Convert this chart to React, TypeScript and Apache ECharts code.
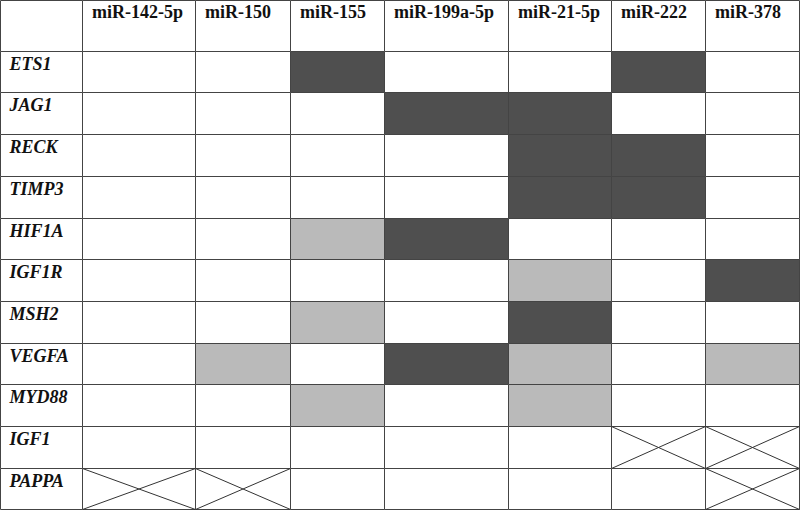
import React, { useEffect, useRef } from "react";
import * as echarts from "echarts";

// ---- data ----
const miRNAs = ["miR-142-5p", "miR-150", "miR-155", "miR-199a-5p", "miR-21-5p", "miR-222", "miR-378"];
const genes = ["ETS1", "JAG1", "RECK", "TIMP3", "HIF1A", "IGF1R", "MSH2", "VEGFA", "MYD88", "IGF1", "PAPPA"];
// 0 = none, 1 = light grey, 2 = dark grey, -1 = not applicable (crossed)
const ETS1 = [0, 0, 2, 0, 0, 2, 0];
const JAG1 = [0, 0, 0, 2, 2, 0, 0];
const RECK = [0, 0, 0, 0, 2, 2, 0];
const TIMP3 = [0, 0, 0, 0, 2, 2, 0];
const HIF1A = [0, 0, 1, 2, 0, 0, 0];
const IGF1R = [0, 0, 0, 0, 1, 0, 2];
const MSH2 = [0, 0, 1, 0, 2, 0, 0];
const VEGFA = [0, 1, 0, 2, 1, 0, 1];
const MYD88 = [0, 0, 1, 0, 1, 0, 0];
const IGF1 = [0, 0, 0, 0, 0, -1, -1];
const PAPPA = [-1, -1, 0, 0, 0, 0, -1];
const matrix = [ETS1, JAG1, RECK, TIMP3, HIF1A, IGF1R, MSH2, VEGFA, MYD88, IGF1, PAPPA];

// ---- layout ----
const COL_W = [82, 113, 95, 94, 124, 103, 94, 94];
const HEADER_H = 50.7;
const ROW_H = 41.7;
const colEdge: number[] = [0];
COL_W.forEach((w) => colEdge.push(colEdge[colEdge.length - 1] + w));
const rowEdge: number[] = [0, HEADER_H];
genes.forEach(() => rowEdge.push(rowEdge[rowEdge.length - 1] + ROW_H));

const DARK = "#4f4f4f";
const LIGHT = "#bababa";
const LINE = "#444444";
const SERIF = "Liberation Serif";

const snap = (v: number) => Math.round(v) + 0.5;

function cellBox(api: any, c: number, r: number) {
  const p0 = api.coord([colEdge[c], rowEdge[r]]);
  const p1 = api.coord([colEdge[c + 1], rowEdge[r + 1]]);
  return { x0: snap(p0[0]), y0: snap(p0[1]), x1: snap(p1[0]), y1: snap(p1[1]) };
}

export default function App() {
  const ref = useRef<HTMLDivElement>(null);
  useEffect(() => {
    if (!ref.current) return;
    const chart = echarts.init(ref.current, null, { renderer: "svg" });

    const bodyData: number[][] = [];
    matrix.forEach((row, r) => row.forEach((v, c) => bodyData.push([c, r, v])));
    const headerData = [["", 0], ...miRNAs.map((m, i) => [m, i + 1])];
    const geneData = genes.map((g, i) => [g, i]);

    const option: any = {
      animation: false,
      backgroundColor: "#ffffff",
      grid: { left: 0, top: 0, right: 0, bottom: 0 },
      xAxis: { type: "value", min: 0, max: 800, show: false },
      yAxis: { type: "value", min: 0, max: 510, inverse: true, show: false },
      series: [
        {
          type: "custom",
          coordinateSystem: "cartesian2d",
          data: bodyData,
          silent: true,
          renderItem: (params: any, api: any) => {
            const c = api.value(0) + 1;
            const r = api.value(1) + 1;
            const v = api.value(2);
            const b = cellBox(api, c, r);
            const fill = v === 2 ? DARK : v === 1 ? LIGHT : "#ffffff";
            const children: any[] = [
              {
                type: "rect",
                shape: { x: b.x0, y: b.y0, width: b.x1 - b.x0, height: b.y1 - b.y0 },
                style: { fill, stroke: LINE, lineWidth: 1 },
              },
            ];
            if (v === -1) {
              children.push({
                type: "line",
                shape: { x1: b.x0, y1: b.y0, x2: b.x1, y2: b.y1 },
                style: { stroke: "#333", lineWidth: 1 },
              });
              children.push({
                type: "line",
                shape: { x1: b.x0, y1: b.y1, x2: b.x1, y2: b.y0 },
                style: { stroke: "#333", lineWidth: 1 },
              });
            }
            return { type: "group", children };
          },
        },
        {
          type: "custom",
          coordinateSystem: "cartesian2d",
          data: headerData,
          silent: true,
          renderItem: (params: any, api: any) => {
            const idx = headerData[params.dataIndex][1] as number;
            const label = headerData[params.dataIndex][0] as string;
            const b = cellBox(api, idx, 0);
            return {
              type: "group",
              children: [
                {
                  type: "rect",
                  shape: { x: b.x0, y: b.y0, width: b.x1 - b.x0, height: b.y1 - b.y0 },
                  style: { fill: "#ffffff", stroke: LINE, lineWidth: 1 },
                },
                {
                  type: "text",
                  style: {
                    text: label,
                    x: b.x0 + 9.5,
                    y: b.y0 + 2.5,
                    fontFamily: SERIF,
                    fontSize: 18,
                    fontWeight: "bold",
                    fill: "#111111",
                    align: "left",
                    verticalAlign: "top",
                  },
                },
              ],
            };
          },
        },
        {
          type: "custom",
          coordinateSystem: "cartesian2d",
          data: geneData,
          silent: true,
          renderItem: (params: any, api: any) => {
            const r = (geneData[params.dataIndex][1] as number) + 1;
            const label = geneData[params.dataIndex][0] as string;
            const b = cellBox(api, 0, r);
            return {
              type: "group",
              children: [
                {
                  type: "rect",
                  shape: { x: b.x0, y: b.y0, width: b.x1 - b.x0, height: b.y1 - b.y0 },
                  style: { fill: "#ffffff", stroke: LINE, lineWidth: 1 },
                },
                {
                  type: "text",
                  style: {
                    text: label,
                    x: b.x0 + 9,
                    y: b.y0 + 3.5,
                    fontFamily: SERIF,
                    fontSize: 18,
                    fontWeight: "bold",
                    fontStyle: "italic",
                    fill: "#111111",
                    align: "left",
                    verticalAlign: "top",
                  },
                },
              ],
            };
          },
        },
      ],
    };
    chart.setOption(option);
    return () => chart.dispose();
  }, []);

  return (
    <div
      ref={ref}
      style={{ position: "absolute", left: 0, top: 0, width: 800, height: 510, background: "#fff" }}
    />
  );
}
